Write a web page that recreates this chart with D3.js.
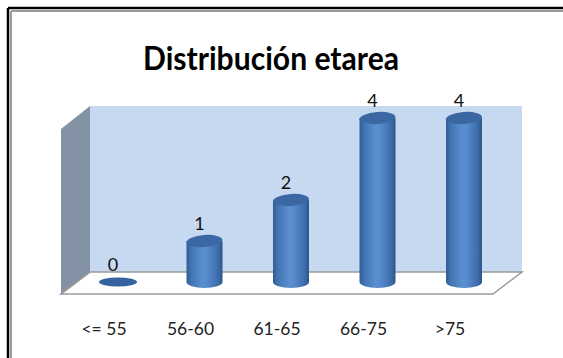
<!DOCTYPE html>
<html><head><meta charset="utf-8">
<script src="https://cdn.jsdelivr.net/npm/d3@7"></script>
<style>html,body{margin:0;padding:0;background:#fff;overflow:hidden;}svg{display:block;}</style>
</head><body>
<svg id="c" width="563" height="358"></svg>
<script>
const categories = ["<= 55", "56-60", "61-65", "66-75", ">75"];
const values = [0, 1, 2, 4, 4];
const title = "Distribución etarea";

const svg = d3.select("#c");
const font = "Lato, 'Open Sans', sans-serif";

// frame
svg.append("line").attr("x1",8).attr("y1",8).attr("x2",563).attr("y2",8).attr("stroke","#000").attr("stroke-width",2.5);
svg.append("line").attr("x1",8).attr("y1",8).attr("x2",8).attr("y2",358).attr("stroke","#000").attr("stroke-width",2.5);
svg.append("line").attr("x1",11).attr("y1",11).attr("x2",563).attr("y2",11).attr("stroke","#9a9a9a").attr("stroke-width",2);
svg.append("line").attr("x1",11).attr("y1",11).attr("x2",11).attr("y2",358).attr("stroke","#9a9a9a").attr("stroke-width",2);

// title
svg.append("text").attr("x",143).attr("y",70)
  .attr("font-family",font).attr("font-weight","bold").attr("font-size",32).attr("fill","#000")
  .attr("textLength",256).attr("lengthAdjust","spacingAndGlyphs").text(title);

// 3D walls
const wallL = 90, wallR = 522, wallTop = 106, wallBot = 272, dx = -29, dy = 22;
svg.append("polygon").attr("points",[[wallL+dx,wallTop+dy+1],[wallL,wallTop],[wallL,wallBot],[wallL+dx,wallBot+dy]].join(" "))
  .attr("fill","#8393a5");
svg.append("rect").attr("x",wallL).attr("y",wallTop).attr("width",wallR-wallL).attr("height",wallBot-wallTop).attr("fill","#c6d9f1");
svg.append("polygon").attr("points",[[wallL,wallBot],[wallR,wallBot],[wallR+dx,wallBot+dy],[wallL+dx,wallBot+dy]].join(" "))
  .attr("fill","#fff").attr("stroke","#9a9a9a").attr("stroke-width",1.5);
svg.append("line").attr("x1",wallL+dx).attr("y1",wallBot+dy).attr("x2",wallL).attr("y2",wallBot).attr("stroke","#9a9a9a").attr("stroke-width",1.5);

// scales
const x = d3.scalePoint().domain(categories).range([118, 464]);
const y = d3.scaleLinear().domain([0, 4]).range([282, 118]);

const defs = svg.append("defs");
const g = defs.append("linearGradient").attr("id","cyl").attr("x1","0").attr("x2","1").attr("y1","0").attr("y2","0");
[[0,"#2f5d93"],[0.12,"#4273b0"],[0.45,"#5a8fd0"],[0.6,"#5589cb"],[0.88,"#3d6caa"],[1,"#2b5689"]]
  .forEach(([o,c])=>g.append("stop").attr("offset",o).attr("stop-color",c));

const bw = 36, ry = 6;
const bars = svg.append("g");
categories.forEach((c,i)=>{
  const cx = x(c), v = values[i];
  const yb = y(0), yt = y(v);
  const gb = bars.append("g");
  if (v > 0) {
    gb.append("path")
      .attr("d", `M${cx-bw/2},${yt} L${cx-bw/2},${yb} A${bw/2},${ry} 0 0 0 ${cx+bw/2},${yb} L${cx+bw/2},${yt} Z`)
      .attr("fill","url(#cyl)");
    gb.append("ellipse").attr("cx",cx).attr("cy",yt).attr("rx",bw/2).attr("ry",ry)
      .attr("fill","#3b68a3").attr("transform",`rotate(-4 ${cx} ${yt})`);
  } else {
    gb.append("ellipse").attr("cx",cx).attr("cy",yb).attr("rx",bw/2+1).attr("ry",ry-1.5).attr("fill","#3563a0");
  }
  svg.append("text").attr("x",cx-5).attr("y",yt-11).attr("text-anchor","middle")
    .attr("font-family",font).attr("font-size",18).attr("fill","#111").text(v);
});

// category labels
svg.append("g").selectAll("text").data(categories).join("text")
  .attr("x",d=>x(d)-14).attr("y",335).attr("text-anchor","middle")
  .attr("font-family",font).attr("font-size",17.5).attr("fill","#222").text(d=>d);
</script>
</body></html>
